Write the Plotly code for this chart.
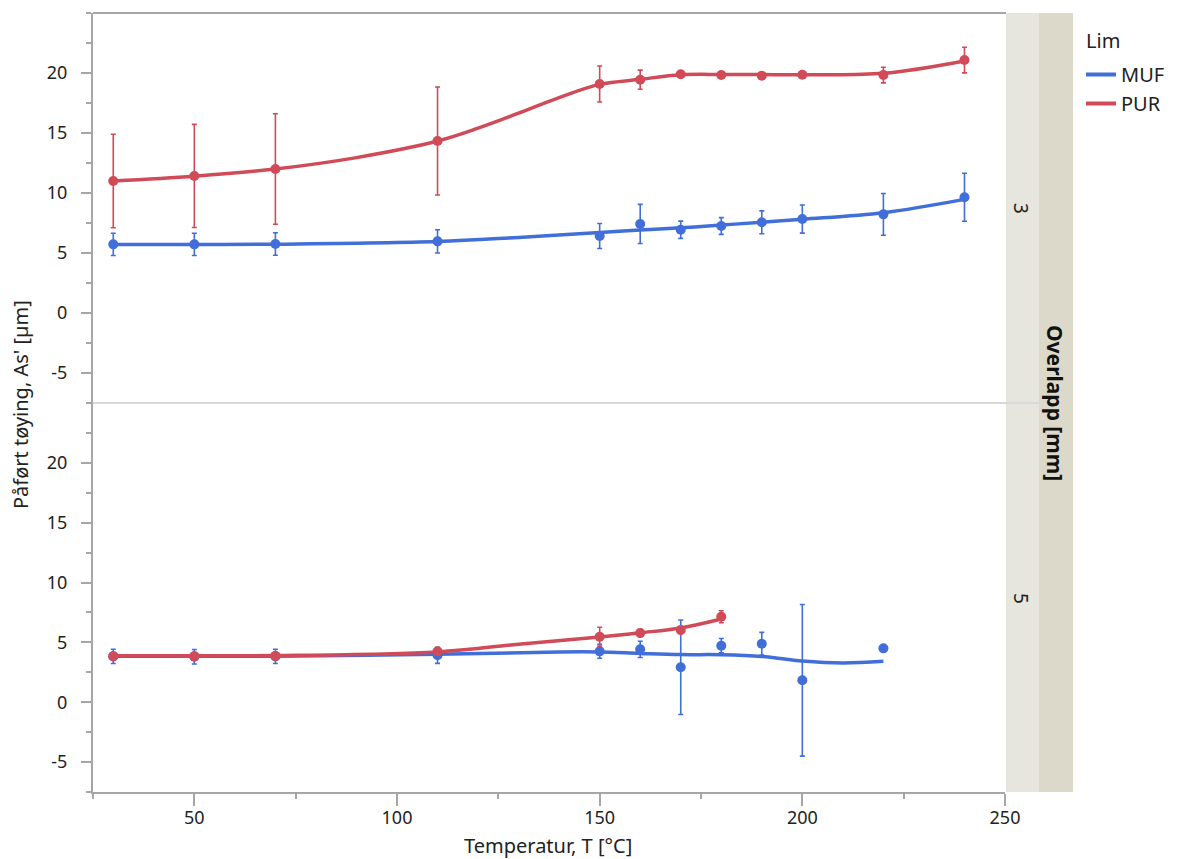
import plotly.graph_objects as go

# ---------------- data ----------------
# Overlapp 3 mm (top panel)
T3 = [30, 50, 70, 110, 150, 160, 170, 180, 190, 200, 220, 240]
muf3 = [5.72, 5.72, 5.75, 5.97, 6.42, 7.42, 6.94, 7.25, 7.56, 7.83, 8.22, 9.64]
muf3_err = [0.93, 0.93, 0.94, 0.97, 1.04, 1.63, 0.72, 0.70, 0.95, 1.17, 1.74, 2.0]
pur3 = [11.0, 11.42, 12.0, 14.33, 19.08, 19.44, 19.89, 19.83, 19.78, 19.86, 19.83, 21.08]
pur3_err = [3.9, 4.3, 4.6, 4.5, 1.5, 0.8, 0.1, 0.1, 0.1, 0.1, 0.65, 1.07]

# smoothing-fit curves
fitT_muf3 = [30, 50, 70, 110, 130, 150, 160, 170, 180, 190, 200, 220, 240]
fit_muf3 = [5.7, 5.7, 5.73, 5.95, 6.3, 6.7, 6.92, 7.1, 7.33, 7.56, 7.81, 8.36, 9.47]
fitT_pur3 = [30, 50, 70, 90, 110, 120, 130, 140, 150, 160, 170, 180, 190, 200, 220, 240]
fit_pur3 = [11.0, 11.4, 12.0, 12.95, 14.33, 15.4, 16.65, 17.95, 19.05, 19.47, 19.85, 19.88, 19.87, 19.86, 19.97, 21.0]

# Overlapp 5 mm (bottom panel)
T5_muf = [30, 50, 70, 110, 150, 160, 170, 180, 190, 200, 220]
muf5 = [3.83, 3.8, 3.83, 3.92, 4.25, 4.42, 2.92, 4.72, 4.89, 1.83, 4.5]
muf5_err = [0.6, 0.6, 0.6, 0.67, 0.58, 0.68, 3.95, 0.6, 0.95, 6.33, 0.0]
T5_pur = [30, 50, 70, 110, 150, 160, 170, 180]
pur5 = [3.85, 3.85, 3.87, 4.25, 5.47, 5.78, 6.03, 7.14]
pur5_err = [0.3, 0.3, 0.3, 0.3, 0.8, 0.3, 0.3, 0.5]

fitT_muf5 = [30, 50, 70, 110, 140, 150, 160, 170, 180, 190, 200, 210, 220]
fit_muf5 = [3.85, 3.85, 3.85, 4.0, 4.2, 4.2, 4.08, 3.98, 3.97, 3.83, 3.44, 3.28, 3.42]
fitT_pur5 = [30, 50, 70, 110, 130, 150, 160, 170, 180]
fit_pur5 = [3.88, 3.88, 3.9, 4.2, 4.85, 5.45, 5.8, 6.2, 6.95]

x_ticks = [50, 100, 150, 200, 250]
y_ticks = [-5, 0, 5, 10, 15, 20]
y_tick_labels = ["-5", "0", "5", "10", "15", "20"]
facet_labels = ["3", "5"]

BLUE = "#416ED9"
RED = "#D04A58"
FONT = "Noto Sans"

W, H = 1181, 859
W_EFF = 1166  # effective rendered width used for paper-coordinate mapping
def px_x(p):
    return p / W_EFF
def px_y(p):
    return 1 - p / H

fig = go.Figure()

def add_panel(xa, ya, tf, yf, tp, yp, yp_err, color, name):
    fig.add_trace(go.Scatter(x=tf, y=yf, mode="lines", line=dict(color=color, width=3.5, shape="spline", smoothing=1.0),
                             xaxis=xa, yaxis=ya, showlegend=False, hoverinfo="skip"))
    fig.add_trace(go.Scatter(x=tp, y=yp, mode="markers", marker=dict(color=color, size=10),
                             error_y=dict(type="data", array=yp_err, color=color, thickness=1.6, width=2.5),
                             xaxis=xa, yaxis=ya, showlegend=False, name=name))

add_panel("x", "y", fitT_muf3, fit_muf3, T3, muf3, muf3_err, BLUE, "MUF")
add_panel("x", "y", fitT_pur3, fit_pur3, T3, pur3, pur3_err, RED, "PUR")
add_panel("x2", "y2", fitT_muf5, fit_muf5, T5_muf, muf5, muf5_err, BLUE, "MUF")
add_panel("x2", "y2", fitT_pur5, fit_pur5, T5_pur, pur5, pur5_err, RED, "PUR")

# legend entries
fig.add_trace(go.Scatter(x=[None], y=[None], mode="lines", line=dict(color=BLUE, width=4), name="MUF"))
fig.add_trace(go.Scatter(x=[None], y=[None], mode="lines", line=dict(color=RED, width=4), name="PUR"))

x0, x1 = px_x(93), px_x(1005)
yt_top, yt_bot = px_y(13), px_y(403)
yb_top, yb_bot = px_y(403), px_y(792)

AX = "#a6a6a6"
TICKF = dict(family=FONT, size=18, color="#222222")

yax_common = dict(range=[-7.5, 25], tickvals=y_ticks, ticktext=y_tick_labels, ticks="outside", ticklen=10,
                  tickwidth=1.5, tickcolor=AX,
                  showline=True, linecolor=AX, linewidth=2, showgrid=False, zeroline=False,
                  tickfont=TICKF, ticklabelstandoff=10,
                  minor=dict(dtick=2.5, tick0=0, ticks="outside", ticklen=5, tickcolor=AX, tickwidth=1.5))
xax_common = dict(range=[25, 250], domain=[x0, x1], showgrid=False, zeroline=False)

fig.update_layout(
    width=W, height=H, margin=dict(l=0, r=0, t=0, b=0),
    paper_bgcolor="white", plot_bgcolor="white",
    font=dict(family=FONT, color="#222222"),
    xaxis=dict(**xax_common, anchor="y", showticklabels=False, ticks="", showline=False, matches="x2"),
    xaxis2=dict(**xax_common, anchor="y2", tickvals=x_ticks, ticks="outside", ticklen=12, tickwidth=1.5, tickcolor=AX,
                showline=True, linecolor=AX, linewidth=2, tickfont=TICKF, ticklabelstandoff=-4,
                minor=dict(dtick=25, tick0=0, ticks="outside", ticklen=5, tickcolor=AX, tickwidth=1.5)),
    yaxis=dict(**yax_common, domain=[yt_bot, yt_top], anchor="x"),
    yaxis2=dict(**yax_common, domain=[yb_bot, yb_top], anchor="x2"),
    legend=dict(x=px_x(1081), y=px_y(55), xanchor="left", yanchor="top",
                font=dict(family=FONT, size=20, color="#222222"), bgcolor="rgba(0,0,0,0)",
                itemwidth=30, tracegroupgap=0),
    showlegend=True,
)

shapes = []
# strips
shapes.append(dict(type="rect", xref="paper", yref="paper", x0=px_x(1006), x1=px_x(1039), y0=px_y(792), y1=px_y(13),
                   fillcolor="#e7e6de", line=dict(width=0), layer="below"))
shapes.append(dict(type="rect", xref="paper", yref="paper", x0=px_x(1039), x1=px_x(1073), y0=px_y(792), y1=px_y(13),
                   fillcolor="#dcd9ca", line=dict(width=0), layer="below"))
# top border
shapes.append(dict(type="line", xref="paper", yref="paper", x0=x0, x1=px_x(1006), y0=px_y(13), y1=px_y(13),
                   line=dict(color=AX, width=2)))
# panel separator
shapes.append(dict(type="line", xref="paper", yref="paper", x0=x0, x1=px_x(1039), y0=px_y(403), y1=px_y(403),
                   line=dict(color="#d9d9d9", width=2)))
fig.update_layout(shapes=shapes)

ann = []
for lab, yc in zip(facet_labels, [208, 598]):
    ann.append(dict(text=lab, xref="paper", yref="paper", x=px_x(1021), y=px_y(yc), showarrow=False, textangle=90,
                    xanchor="center", yanchor="middle", font=dict(family=FONT, size=19, color="#222222")))
ann.append(dict(text="<b>Overlapp [mm]</b>", xref="paper", yref="paper", x=px_x(1055), y=px_y(403), showarrow=False,
                textangle=90, xanchor="center", yanchor="middle", font=dict(family=FONT, size=21, color="#111111")))
ann.append(dict(text="Påført tøying, As' [µm]", xref="paper", yref="paper", x=px_x(20), y=px_y(405), showarrow=False,
                textangle=-90, xanchor="center", yanchor="middle", font=dict(family=FONT, size=20, color="#222222")))
ann.append(dict(text="Temperatur, T [°C]", xref="paper", yref="paper", x=px_x(548), y=px_y(845), showarrow=False,
                xanchor="center", yanchor="middle", font=dict(family=FONT, size=20, color="#222222")))
ann.append(dict(text="Lim", xref="paper", yref="paper", x=px_x(1084), y=px_y(40), showarrow=False,
                xanchor="left", yanchor="middle", font=dict(family=FONT, size=20, color="#222222")))
fig.update_layout(annotations=ann)

fig.write_html("out.html", config={"displayModeBar": False},
               post_script="document.body.style.margin='0px';document.body.style.overflow='hidden';document.documentElement.style.overflow='hidden';")
